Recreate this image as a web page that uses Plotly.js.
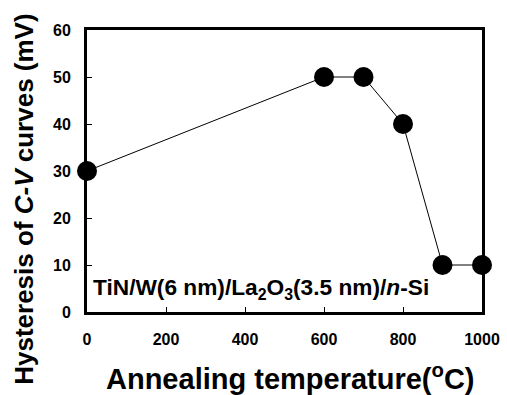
<!DOCTYPE html>
<html><head><meta charset="utf-8">
<script src="https://cdn.plot.ly/plotly-3.0.1.min.js"></script>
<style>html,body{margin:0;padding:0;background:#fff}#c{width:507px;height:395px}</style>
</head><body><div id="c"></div>
<script>
const temperature = [0, 600, 700, 800, 900, 1000];
const hysteresis = [30, 50, 50, 40, 10, 10];
const xTicks = [0, 200, 400, 600, 800, 1000];
const yTicks = [0, 10, 20, 30, 40, 50, 60];
const xTitle = "Annealing temperature(<sup>o</sup>C)";
const yTitle = "Hysteresis of <i>C-V</i> curves (mV)";
const sampleLabel = "TiN/W(6 nm)/La<sub>2</sub>O<sub>3</sub>(3.5 nm)/<i>n</i>-Si";

const F = "Arial, 'Liberation Sans', sans-serif";
Plotly.newPlot('c', [{
  x: temperature, y: hysteresis, type: 'scatter', mode: 'lines+markers',
  line: {color: '#000', width: 1},
  marker: {color: '#000', size: 20},
  cliponaxis: false, showlegend: false
}], {
  width: 507, height: 395,
  margin: {l: 87, r: 25, t: 30, b: 83},
  paper_bgcolor: '#fff', plot_bgcolor: '#fff',
  font: {family: F, color: '#000'},
  xaxis: {
    range: [0, 1000], tickvals: xTicks, ticktext: xTicks.map(v => '<b>' + v + '</b>'),
    ticks: 'inside', ticklen: 5, tickwidth: 1, tickcolor: '#000',
    showline: true, linewidth: 3, linecolor: '#000', mirror: true,
    showgrid: false, zeroline: false, ticklabelstandoff: 11,
    tickfont: {family: F, size: 16, color: '#000'}
  },
  yaxis: {
    range: [0, 60], tickvals: yTicks, ticktext: yTicks.map(v => '<b>' + v + '</b>'),
    ticks: 'inside', ticklen: 5, tickwidth: 1, tickcolor: '#000',
    showline: true, linewidth: 3, linecolor: '#000', mirror: true,
    showgrid: false, zeroline: false, ticklabelstandoff: 10,
    tickfont: {family: F, size: 16, color: '#000'}
  },
  annotations: [{
    text: '<b>' + sampleLabel + '</b>', xref: 'paper', yref: 'paper', x: 0.01, y: 0.025,
    xanchor: 'left', yanchor: 'bottom', showarrow: false,
    font: {family: F, size: 22.7, color: '#000'}
  }, {
    text: '<b>' + xTitle + '</b>', xref: 'paper', yref: 'paper', x: 0.514, y: -0.231,
    xanchor: 'center', yanchor: 'middle', showarrow: false,
    font: {family: F, size: 29, color: '#000'}
  }, {
    text: '<b>' + yTitle + '</b>', xref: 'paper', yref: 'paper', x: -0.158, y: 0.4,
    xanchor: 'center', yanchor: 'middle', textangle: -90, showarrow: false,
    font: {family: F, size: 26, color: '#000'}
  }]
}, {staticPlot: true});
</script></body></html>
